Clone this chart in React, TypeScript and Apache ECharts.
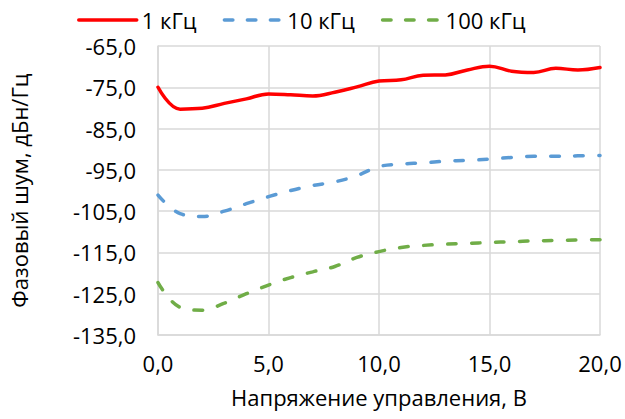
import React, { useEffect, useRef } from "react";
import * as echarts from "echarts";

const voltages = [0, 1, 2, 3, 4, 5, 6, 7, 8, 9, 10, 11, 12, 13, 14, 15, 16, 17, 18, 19, 20];
const noise1k = [-75.0, -80.3, -80.1, -78.9, -77.8, -76.6, -76.8, -77.1, -76.2, -74.9, -73.5, -73.2, -72.1, -72.0, -70.8, -69.9, -71.1, -71.4, -70.4, -70.8, -70.2];
const noise10k = [-101.1, -105.6, -106.3, -105.0, -103.2, -101.5, -100.0, -98.8, -97.9, -96.4, -94.2, -93.6, -93.3, -92.9, -92.7, -92.4, -92.0, -91.7, -91.7, -91.6, -91.5];
const noise100k = [-122.3, -128.3, -129.0, -127.3, -125.0, -122.9, -121.1, -119.7, -118.4, -116.2, -114.8, -113.8, -113.3, -113.0, -112.8, -112.6, -112.4, -112.2, -112.1, -112.0, -111.9];
const seriesNames = ["1 кГц", "10 кГц", "100 кГц"];
const xAxisName = "Напряжение управления, В";
const yAxisName = "Фазовый шум, дБн/Гц";
const yMin = -135;
const yMax = -65;

const FONT = "Open Sans";

export default function App() {
  const ref = useRef<HTMLDivElement>(null);
  useEffect(() => {
    if (!ref.current) return;
    document.body.style.margin = "0";
    const chart = echarts.init(ref.current, null, { renderer: "svg" });
    const shift = (arr: number[]) => arr.map((v, i) => [voltages[i], v - yMin]);
    const fmt = (v: number) => v.toFixed(1).replace(".", ",");
    const colors = ["#FF0000", "#5B9BD5", "#70AD47"];
    const datas = [noise1k, noise10k, noise100k];
    chart.setOption({
      animation: false,
      textStyle: { fontFamily: FONT },
      legend: {
        left: 72,
        top: 4,
        itemWidth: 58,
        itemHeight: 14,
        itemGap: 26,
        itemStyle: { opacity: 0 },
        lineStyle: { width: 3.5 },
        textStyle: { fontFamily: FONT, fontSize: 22, color: "#000" },
        data: seriesNames.map((name, i) => ({
          name,
          lineStyle: { width: 3.5, type: i === 0 ? "solid" : [8.5, 14.5], cap: "round" },
        })),
      },
      grid: { left: 153, right: 25, top: 46, bottom: 84, containLabel: false },
      xAxis: {
        type: "value",
        min: 0,
        max: 20,
        interval: 5,
        name: xAxisName,
        nameLocation: "middle",
        nameGap: 51,
        nameTextStyle: { fontFamily: FONT, fontSize: 22, color: "#000" },
        axisLine: { show: true, lineStyle: { color: "#D9D9D9", width: 1.5 } },
        axisTick: { show: false },
        axisLabel: { fontFamily: FONT, fontSize: 22, color: "#000", margin: 17, formatter: (v: number) => fmt(v) },
        splitLine: { show: true, lineStyle: { color: "#D9D9D9", width: 1.5 } },
      },
      yAxis: {
        type: "value",
        min: 0,
        max: yMax - yMin,
        interval: 10,
        name: yAxisName,
        nameLocation: "middle",
        nameGap: 128,
        nameRotate: 90,
        nameTextStyle: { fontFamily: FONT, fontSize: 22, color: "#000" },
        axisLine: { show: true, lineStyle: { color: "#D9D9D9", width: 1.5 } },
        axisTick: { show: false },
        axisLabel: {
          fontFamily: FONT,
          fontSize: 22,
          color: "#000",
          margin: 22,
          padding: [8, 0, 0, 0],
          formatter: (v: number) => fmt(v + yMin),
        },
        splitLine: { show: true, lineStyle: { color: "#D9D9D9", width: 1.5 } },
      },
      series: seriesNames.map((name, i) => ({
        name,
        type: "line",
        data: shift(datas[i]),
        smooth: 0.4,
        showSymbol: false,
        symbol: "none",
        color: colors[i],
        lineStyle: {
          color: colors[i],
          width: 3.5,
          type: i === 0 ? "solid" : [8.5, 15.5],
          cap: "round",
        },
      })),
    });
    return () => chart.dispose();
  }, []);
  return <div ref={ref} style={{ width: 625, height: 419 }} />;
}
